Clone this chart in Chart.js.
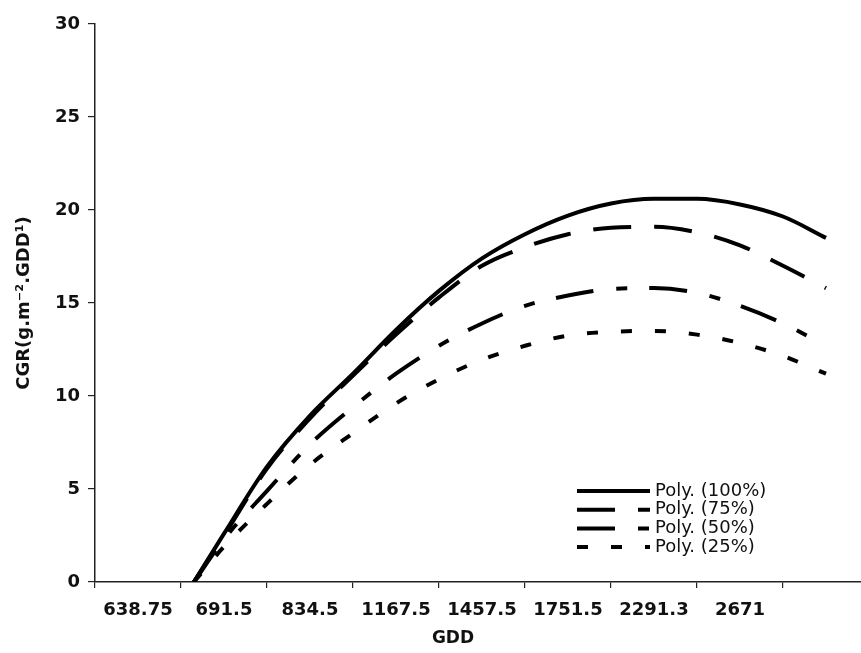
<!DOCTYPE html>
<html lang="en">
<head>
  <meta charset="UTF-8">
  <title>CGR vs GDD</title>
  <script src="https://cdn.jsdelivr.net/npm/chart.js"></script>
  <style>
    html, body {
      margin: 0;
      padding: 0;
      background: #fff;
      overflow: hidden;
    }
    .wrap {
      width: 880px;
      height: 653px;
    }
  </style>
</head>
<body>

<div class="wrap">
  <canvas id="cgrChart" width="880" height="653"></canvas>
</div>

<script>
  // Category labels of the GDD axis (last category has no label in the figure)
  const gddLabels = ['638.75', '691.5', '834.5', '1167.5', '1457.5', '1751.5', '2291.3', '2671', ''];

  // Positions (in category units, 0 = first category) where the curves were read
  const samplePos = [0.65, 1, 1.5, 2, 2.5, 3, 3.5, 4, 4.5, 5, 5.5, 6, 6.5, 7, 7.5, 8];

  // Polynomial trend lines, CGR
  const poly100 = [0, 2.6, 6.2, 8.95, 11.2, 13.55, 15.65, 17.4, 18.7, 19.7, 20.35, 20.6, 20.6, 20.3, 19.65, 18.5];
  const poly75  = [0, 2.5, 6.1, 8.8, 11.1, 13.3, 15.3, 17.0, 18.0, 18.7, 19.05, 19.1, 18.8, 18.1, 17.0, 15.8];
  const poly50  = [0, 2.3, 4.9, 7.4, 9.4, 11.2, 12.7, 13.9, 14.85, 15.4, 15.75, 15.8, 15.55, 14.85, 13.9, 12.7];
  const poly25  = [0, 1.9, 4.2, 6.3, 8.0, 9.6, 10.9, 11.95, 12.7, 13.25, 13.45, 13.5, 13.3, 12.85, 12.15, 11.2];

  const yTicks = [0, 5, 10, 15, 20, 25, 30];

  function toPoints(values) {
    return values.map((v, i) => ({ x: samplePos[i], y: v }));
  }

  function makeSet(label, values, dash) {
    return {
      label: label,
      data: toPoints(values),
      xAxisID: 'xv',
      yAxisID: 'y',
      borderColor: '#000',
      borderWidth: 4,
      borderDash: dash,
      pointRadius: 0,
      fill: false,
      cubicInterpolationMode: 'monotone'
    };
  }

  // Legend in the lower right of the plot, drawn from the datasets
  const lineLegend = {
    id: 'lineLegend',
    afterDraw(chart) {
      const ctx = chart.ctx;
      const x0 = 577, rowTop = 491, rowGap = 18.7;
      ctx.save();
      chart.data.datasets.forEach((ds, i) => {
        const y = rowTop + i * rowGap;
        ctx.beginPath();
        ctx.setLineDash(ds.borderDash || []);
        ctx.lineWidth = ds.borderWidth;
        ctx.strokeStyle = ds.borderColor;
        ctx.moveTo(x0, y);
        ctx.lineTo(x0 + 73, y);
        ctx.stroke();
        ctx.setLineDash([]);
        ctx.fillStyle = '#111';
        ctx.font = '18px "DejaVu Sans"';
        ctx.textBaseline = 'middle';
        ctx.textAlign = 'left';
        ctx.fillText(ds.label, x0 + 78, y);
      });

      // x axis title
      ctx.font = 'bold 17px "DejaVu Sans"';
      ctx.textAlign = 'center';
      ctx.fillText('GDD', chart.chartArea.left + 358, 639);
      ctx.restore();
    }
  };

  const ctx = document.getElementById('cgrChart').getContext('2d');

  new Chart(ctx, {
    type: 'line',
    data: {
      labels: gddLabels,
      datasets: [
        makeSet('Poly. (100%)', poly100, []),
        makeSet('Poly. (75%)', poly75, [38, 23]),
        makeSet('Poly. (50%)', poly50, [38, 23, 11, 22]),
        makeSet('Poly. (25%)', poly25, [11, 23])
      ]
    },
    options: {
      responsive: false,
      animation: false,
      layout: {
        padding: { top: 24, right: 11, bottom: 0, left: 0 }
      },
      plugins: {
        legend: { display: false },
        tooltip: { enabled: false }
      },
      scales: {
        x: {
          type: 'category',
          offset: true,
          grid: {
            offset: true,
            drawOnChartArea: false,
            tickLength: 6,
            color: '#222',
            lineWidth: 1.2
          },
          border: { display: true, color: '#222', width: 1.5 },
          ticks: {
            color: '#111',
            padding: 12,
            maxRotation: 0,
            autoSkip: false,
            font: { family: 'DejaVu Sans', size: 18, weight: 'bold' }
          },
          afterFit: (scale) => { scale.height = 71; }
        },
        xv: {
          type: 'linear',
          axis: 'x',
          display: false,
          min: -0.5,
          max: gddLabels.length - 0.5
        },
        y: {
          min: 0,
          max: 30,
          afterBuildTicks: (scale) => { scale.ticks = yTicks.map(v => ({ value: v })); },
          grid: {
            drawOnChartArea: false,
            tickLength: 7,
            color: '#222',
            lineWidth: 1.2
          },
          border: { display: true, color: '#222', width: 1.5 },
          ticks: {
            color: '#111',
            padding: 8,
            font: { family: 'DejaVu Sans', size: 18, weight: 'bold' }
          },
          title: {
            display: true,
            text: 'CGR(g.m\u207B\u00B2.GDD\u00B9)',
            color: '#111',
            padding: { top: 14, bottom: 0 },
            font: { family: 'DejaVu Sans', size: 18, weight: 'bold' }
          },
          afterFit: (scale) => { scale.width = 95; }
        }
      }
    },
    plugins: [lineLegend]
  });
</script>

</body>
</html>
